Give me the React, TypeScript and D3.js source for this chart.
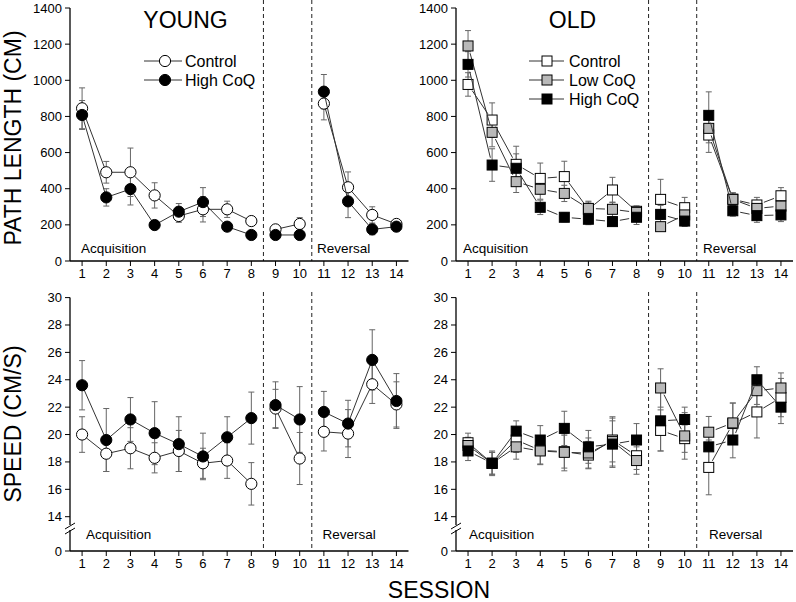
import React from "react";
import * as d3 from "d3";

const sessions = [1, 2, 3, 4, 5, 6, 7, 8, 9, 10, 11, 12, 13, 14];
const segments = [[1, 8], [9, 10], [11, 14]];

const pathTicks = [0, 200, 400, 600, 800, 1000, 1200, 1400];
const speedTicks = [14, 16, 18, 20, 22, 24, 26, 28, 30];

// YOUNG path length
const ypControl = [845, 491, 491, 363, 249, 286, 286, 221, 175, 205, 871, 408, 255, 205];
const ypControlErr = [113, 60, 134, 70, 35, 70, 45, 20, 20, 35, 90, 85, 45, 20];
const ypHigh = [808, 352, 398, 199, 273, 326, 190, 144, 144, 144, 937, 330, 175, 190];
const ypHighErr = [80, 48, 88, 25, 45, 80, 20, 15, 10, 10, 95, 90, 30, 25];

// OLD path length
const opControl = [977, 780, 535, 457, 467, 286, 393, 275, 341, 295, 697, 342, 310, 361];
const opControlErr = [65, 95, 100, 85, 85, 40, 70, 30, 111, 57, 96, 36, 42, 45];
const opLow = [1190, 712, 439, 397, 374, 291, 286, 269, 190, 255, 734, 341, 291, 304];
const opLowErr = [85, 80, 60, 55, 45, 40, 40, 30, 20, 30, 80, 35, 35, 40];
const opHigh = [1088, 531, 513, 297, 242, 231, 218, 242, 258, 221, 806, 278, 251, 255];
const opHighErr = [70, 90, 80, 40, 25, 30, 25, 40, 50, 30, 130, 30, 37, 37];

// YOUNG speed
const ysControl = [20.0, 18.6, 19.0, 18.3, 18.8, 17.9, 18.1, 16.4, 21.9, 18.25, 20.2, 20.07, 23.67, 22.2];
const ysControlErr = [1.3, 1.3, 1.5, 1.1, 1.5, 1.1, 1.3, 1.55, 1.4, 1.9, 1.4, 1.75, 1.4, 1.65];
const ysHigh = [23.6, 19.6, 21.1, 20.1, 19.3, 18.4, 19.8, 21.2, 22.15, 21.1, 21.65, 20.8, 25.45, 22.45];
const ysHighErr = [1.8, 2.3, 1.6, 2.3, 2.0, 1.7, 1.5, 1.9, 1.7, 2.4, 1.5, 1.7, 2.2, 2.0];

// OLD speed
const osControl = [19.4, 17.9, 19.6, 18.85, 18.75, 18.5, 19.6, 18.45, 20.3, 19.7, 17.6, 20.8, 21.65, 22.7];
const osControlErr = [0.7, 0.9, 0.9, 1.0, 1.2, 1.0, 1.6, 1.0, 1.5, 1.0, 2.0, 1.5, 1.9, 1.4];
const osLow = [19.2, 17.9, 19.1, 18.8, 18.7, 18.65, 19.5, 18.1, 23.4, 19.9, 20.17, 20.85, 23.2, 23.4];
const osLowErr = [0.6, 0.8, 0.9, 1.0, 1.35, 1.1, 1.8, 1.0, 1.4, 1.7, 1.15, 1.45, 1.0, 1.1];
const osHigh = [18.8, 17.9, 20.25, 19.6, 20.45, 19.1, 19.3, 19.6, 21.0, 21.1, 19.1, 19.6, 24.0, 22.0];
const osHighErr = [0.7, 0.8, 0.75, 1.05, 1.25, 1.2, 1.7, 1.2, 2.2, 0.9, 1.2, 1.3, 0.95, 1.2];

const FONT = "'Liberation Sans', Arial, Helvetica, sans-serif";
const GRAY = "#b9b9b9";

type Series = { values: number[]; errs: number[]; fill: string; shape: "circle" | "square"; gap: boolean };

function Marker({ x, y, shape, fill }: { x: number; y: number; shape: string; fill: string }) {
  if (shape === "circle") return <circle cx={x} cy={y} r={5.6} fill={fill} stroke="#000" strokeWidth={1} />;
  return <rect x={x - 5} y={y - 5} width={10} height={10} fill={fill} stroke="#000" strokeWidth={1} />;
}

function Panel({ x0, x1, yScale, yTicks, yTickFmt, series, broken, labels }: any) {
  const xs = d3.scaleLinear().domain([0.5, 14.5]).range([x0, x1]);
  const yBase = broken ? 551 : yScale(0);
  const yTop = yScale(yTicks[yTicks.length - 1]);
  const dash1 = (xs(8) + xs(9)) / 2;
  const dash2 = (xs(10) + xs(11)) / 2;
  const line = d3.line<[number, number]>().x((d) => d[0]).y((d) => d[1]);
  return (
    <g>
      {/* dashed separators */}
      {[dash1, dash2].map((dx, i) => (
        <line key={i} x1={dx} x2={dx} y1={broken ? 292 : 0} y2={yBase} stroke="#222" strokeWidth={1} strokeDasharray="4,3" />
      ))}
      {/* y axis */}
      {broken ? (
        <g>
          <line x1={x0} x2={x0} y1={yBase} y2={530} stroke="#000" strokeWidth={1.3} />
          <line x1={x0} x2={x0} y1={525} y2={yTop} stroke="#000" strokeWidth={1.3} />
          <line x1={x0 - 5} x2={x0 + 5} y1={529} y2={523} stroke="#000" strokeWidth={1} />
          <line x1={x0 - 5} x2={x0 + 5} y1={534} y2={528} stroke="#000" strokeWidth={1} />
          <line x1={x0 - 5} x2={x0} y1={yBase} y2={yBase} stroke="#000" strokeWidth={1} />
          <text x={x0 - 8} y={yBase + 4.5} textAnchor="end" fontSize={13} fontFamily={FONT}>0</text>
        </g>
      ) : (
        <line x1={x0} x2={x0} y1={yBase} y2={yTop} stroke="#000" strokeWidth={1.3} />
      )}
      {yTicks.map((t: number) => (
        <g key={t}>
          <line x1={x0 - 5} x2={x0} y1={yScale(t)} y2={yScale(t)} stroke="#000" strokeWidth={1} />
          <text x={x0 - 8} y={yScale(t) + 4.5} textAnchor="end" fontSize={13} fontFamily={FONT}>{yTickFmt(t)}</text>
        </g>
      ))}
      {/* x axis */}
      <line x1={x0} x2={x1} y1={yBase} y2={yBase} stroke="#000" strokeWidth={1.3} />
      {sessions.map((s) => (
        <g key={s}>
          <line x1={xs(s)} x2={xs(s)} y1={yBase} y2={yBase + 5} stroke="#000" strokeWidth={1} />
          <text x={xs(s)} y={yBase + 17} textAnchor="middle" fontSize={13} fontFamily={FONT}>{s}</text>
        </g>
      ))}
      {/* phase labels */}
      <text x={labels.acqX} y={labels.y} fontSize={13.5} fontFamily={FONT}>Acquisition</text>
      <text x={labels.revX} y={labels.y} fontSize={13.5} fontFamily={FONT}>Reversal</text>
      {/* error bars */}
      {series.map((se: Series, si: number) => (
        <g key={"e" + si} stroke="#666" strokeWidth={1}>
          {sessions.map((s, i) => {
            const x = xs(s);
            const yh = yScale(se.values[i] + se.errs[i]);
            const yl = yScale(se.values[i] - se.errs[i]);
            return (
              <g key={s}>
                <line x1={x} x2={x} y1={yh} y2={yl} />
                <line x1={x - 3} x2={x + 3} y1={yh} y2={yh} />
                <line x1={x - 3} x2={x + 3} y1={yl} y2={yl} />
              </g>
            );
          })}
        </g>
      ))}
      {/* lines and markers */}
      {series.map((se: Series, si: number) => (
        <g key={"s" + si}>
          {segments.map(([a, b]) => {
            if (!se.gap) {
              const pts: [number, number][] = [];
              for (let s = a; s <= b; s++) pts.push([xs(s), yScale(se.values[s - 1])]);
              return <path key={a} d={line(pts) || ""} fill="none" stroke="#333" strokeWidth={1} />;
            }
            const segs = [];
            for (let s = a; s < b; s++) {
              const xa = xs(s), ya = yScale(se.values[s - 1]);
              const xb = xs(s + 1), yb = yScale(se.values[s]);
              const dx = xb - xa, dy = yb - ya;
              const len = Math.hypot(dx, dy);
              const g = 7.5;
              if (len <= 2 * g) continue;
              const ux = dx / len, uy = dy / len;
              segs.push(
                <line key={s} x1={xa + ux * g} y1={ya + uy * g} x2={xb - ux * g} y2={yb - uy * g} stroke="#333" strokeWidth={1} />
              );
            }
            return <g key={a}>{segs}</g>;
          })}
          {sessions.map((s, i) => (
            <Marker key={s} x={xs(s)} y={yScale(se.values[i])} shape={se.shape} fill={se.fill} />
          ))}
        </g>
      ))}
    </g>
  );
}

export default function App() {
  const yPath = d3.scaleLinear().domain([0, 1400]).range([261, 8]);
  const ySpeed = d3.scaleLinear().domain([14, 30]).range([516.7, 297.6]);
  const fmt = (t: number) => String(t);

  const youngPath: Series[] = [
    { values: ypControl, errs: ypControlErr, fill: "#fff", shape: "circle", gap: false },
    { values: ypHigh, errs: ypHighErr, fill: "#000", shape: "circle", gap: false },
  ];
  const oldPath: Series[] = [
    { values: opControl, errs: opControlErr, fill: "#fff", shape: "square", gap: true },
    { values: opLow, errs: opLowErr, fill: GRAY, shape: "square", gap: true },
    { values: opHigh, errs: opHighErr, fill: "#000", shape: "square", gap: true },
  ];
  const youngSpeed: Series[] = [
    { values: ysControl, errs: ysControlErr, fill: "#fff", shape: "circle", gap: false },
    { values: ysHigh, errs: ysHighErr, fill: "#000", shape: "circle", gap: false },
  ];
  const oldSpeed: Series[] = [
    { values: osControl, errs: osControlErr, fill: "#fff", shape: "square", gap: true },
    { values: osLow, errs: osLowErr, fill: GRAY, shape: "square", gap: true },
    { values: osHigh, errs: osHighErr, fill: "#000", shape: "square", gap: true },
  ];

  const youngLegend = [
    { label: "Control", fill: "#fff", y: 61 },
    { label: "High CoQ", fill: "#000", y: 80 },
  ];
  const oldLegend = [
    { label: "Control", fill: "#fff", y: 61 },
    { label: "Low CoQ", fill: GRAY, y: 80 },
    { label: "High CoQ", fill: "#000", y: 99 },
  ];

  return (
    <svg width={796} height={602} style={{ position: "absolute", left: 0, top: 0, background: "#fff" }}>
      <rect width={796} height={602} fill="#fff" />
      <Panel x0={70} x1={408.5} yScale={yPath} yTicks={pathTicks} yTickFmt={fmt} series={youngPath} broken={false}
        labels={{ acqX: 81, revX: 317, y: 253 }} />
      <Panel x0={456} x1={793} yScale={yPath} yTicks={pathTicks} yTickFmt={fmt} series={oldPath} broken={false}
        labels={{ acqX: 463, revX: 703, y: 253 }} />
      <Panel x0={70} x1={408.5} yScale={ySpeed} yTicks={speedTicks} yTickFmt={fmt} series={youngSpeed} broken={true}
        labels={{ acqX: 86, revX: 322.5, y: 539 }} />
      <Panel x0={456} x1={793} yScale={ySpeed} yTicks={speedTicks} yTickFmt={fmt} series={oldSpeed} broken={true}
        labels={{ acqX: 469, revX: 709, y: 539 }} />

      {/* titles */}
      <text x={185.5} y={28} textAnchor="middle" fontSize={23} fontFamily={FONT}>YOUNG</text>
      <text x={572.5} y={28} textAnchor="middle" fontSize={23} fontFamily={FONT}>OLD</text>

      {/* legends */}
      {youngLegend.map((l) => (
        <g key={l.label}>
          <line x1={144} x2={182} y1={l.y} y2={l.y} stroke="#333" strokeWidth={1} />
          <circle cx={165} cy={l.y} r={5.6} fill={l.fill} stroke="#000" strokeWidth={1} />
          <text x={185} y={l.y + 5.5} fontSize={16} fontFamily={FONT}>{l.label}</text>
        </g>
      ))}
      {oldLegend.map((l) => (
        <g key={l.label}>
          <line x1={529} x2={564} y1={l.y} y2={l.y} stroke="#333" strokeWidth={1} />
          <rect x={542} y={l.y - 5} width={10} height={10} fill={l.fill} stroke="#000" strokeWidth={1} />
          <text x={569} y={l.y + 5.5} fontSize={16} fontFamily={FONT}>{l.label}</text>
        </g>
      ))}

      {/* axis titles */}
      <text transform="translate(21,138) rotate(-90)" textAnchor="middle" fontSize={23} fontFamily={FONT}>PATH LENGTH (CM)</text>
      <text transform="translate(21,424) rotate(-90)" textAnchor="middle" fontSize={23} fontFamily={FONT}>SPEED (CM/S)</text>
      <text x={439} y={598} textAnchor="middle" fontSize={23} fontFamily={FONT}>SESSION</text>
    </svg>
  );
}
